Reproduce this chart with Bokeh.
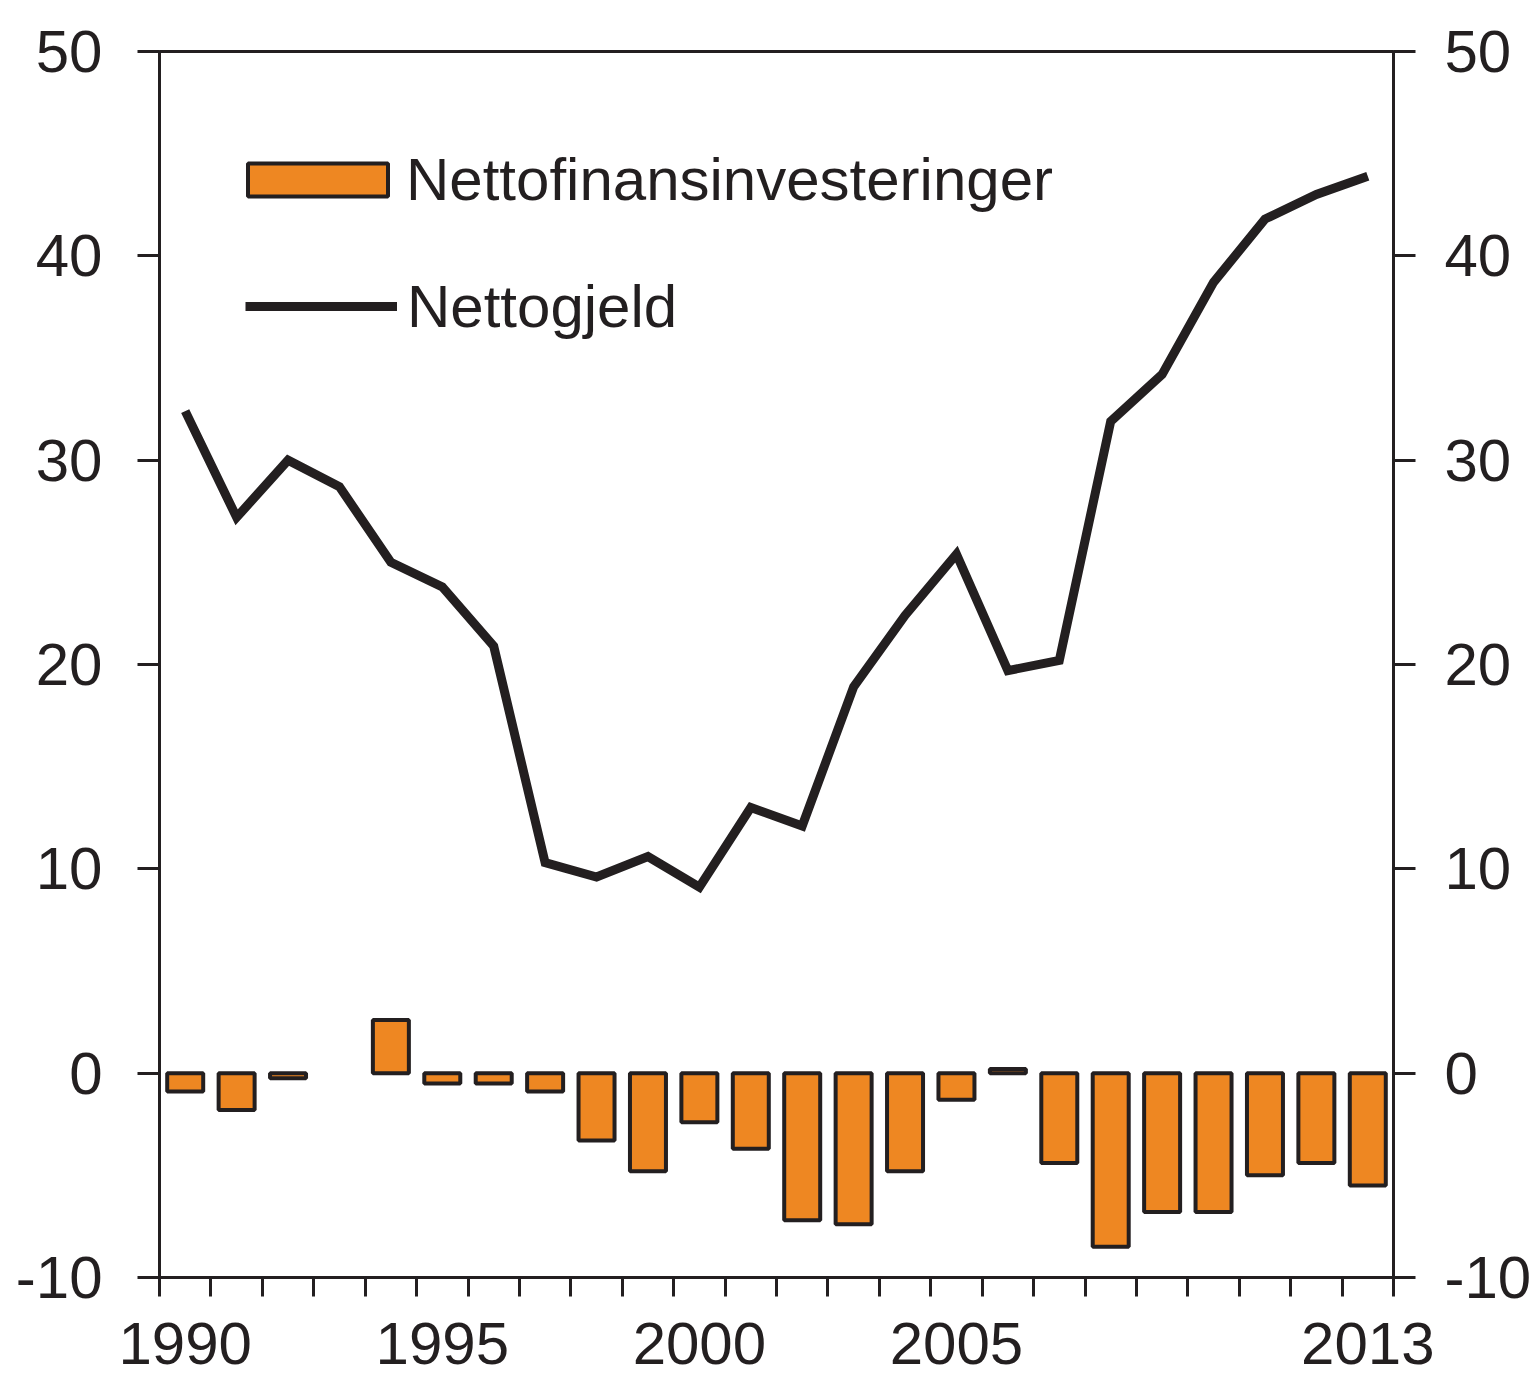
import numpy as np
from bokeh.plotting import figure
from bokeh.models import (ColumnDataSource, Range1d, LinearAxis, FixedTicker,
                          Legend, LegendItem, PrintfTickFormatter)
from bokeh.embed import file_html
from bokeh.resources import INLINE

# ---- data ----
years = list(range(1990, 2014))
nettofinansinvesteringer = [-0.9, -1.8, -0.25, np.nan, 2.6, -0.5, -0.5, -0.9, -3.3, -4.8,
                            -2.4, -3.7, -7.2, -7.4, -4.8, -1.3, 0.2, -4.4, -8.5, -6.8,
                            -6.8, -5.0, -4.4, -5.5]
nettogjeld = [32.4, 27.2, 30.0, 28.7, 25.0, 23.8, 20.9, 10.3, 9.6, 10.6,
              9.1, 13.0, 12.1, 18.9, 22.4, 25.4, 19.7, 20.2, 31.9, 34.2,
              38.7, 41.8, 43.0, 43.9]
y_ticks = [-10, 0, 10, 20, 30, 40, 50]
x_label_years = [1990, 1995, 2000, 2005, 2013]
x_boundaries = [y - 0.5 for y in years] + [years[-1] + 0.5]

FONT = "Liberation Sans"
FS = "60px"
INK = "#231f20"
ORANGE = "#ee8722"

src = ColumnDataSource(data=dict(year=years,
                                 nf=np.array(nettofinansinvesteringer, dtype=float),
                                 ng=nettogjeld))

p = figure(frame_width=1234, frame_height=1226,
           x_range=Range1d(years[0] - 0.5, years[-1] + 0.5),
           y_range=Range1d(-10, 50),
           output_backend="svg", toolbar_location=None,
           x_axis_type=None, y_axis_type=None,
           min_border_left=159, min_border_top=51,
           min_border_right=142, min_border_bottom=108)
p.grid.visible = False
p.outline_line_color = INK
p.outline_line_width = 3
p.background_fill_color = "white"
p.border_fill_color = "white"

bars = p.vbar(x="year", top="nf", bottom=0, width=0.7, source=src,
              fill_color=ORANGE, line_color=INK, line_width=4)
line = p.line(x="year", y="ng", source=src, line_color=INK, line_width=9,
              line_join="miter")


def y_axis(standoff):
    ax = LinearAxis(ticker=FixedTicker(ticks=y_ticks, minor_ticks=[]),
                    formatter=PrintfTickFormatter(format="%d"))
    ax.axis_line_color = INK
    ax.axis_line_width = 3
    ax.major_tick_line_color = INK
    ax.major_tick_line_width = 3
    ax.major_tick_out = 22
    ax.major_tick_in = 0
    ax.minor_tick_line_color = None
    ax.major_label_standoff = standoff
    ax.major_label_text_font = FONT
    ax.major_label_text_font_size = FS
    ax.major_label_text_color = INK
    return ax


p.add_layout(y_axis(35), "left")
p.add_layout(y_axis(29), "right")

xa = LinearAxis(ticker=FixedTicker(ticks=x_label_years, minor_ticks=x_boundaries),
                formatter=PrintfTickFormatter(format="%d"))
xa.axis_line_color = INK
xa.axis_line_width = 3
xa.major_tick_line_color = None
xa.major_tick_out = 19
xa.major_tick_in = 0
xa.minor_tick_line_color = INK
xa.minor_tick_line_width = 3
xa.minor_tick_out = 19
xa.minor_tick_in = 0
xa.major_label_standoff = 26
xa.major_label_text_font = FONT
xa.major_label_text_font_size = FS
xa.major_label_text_color = INK
p.add_layout(xa, "below")

common = dict(location="top_left", padding=0, border_line_color=None,
              background_fill_alpha=0, label_text_font=FONT,
              label_text_font_size=FS, label_text_color=INK)

legend_bar = Legend(items=[LegendItem(label="Nettofinansinvesteringer", renderers=[bars])],
                    margin=71, glyph_width=175, glyph_height=41,
                    label_standoff=1, label_height=115, **common)
legend_line = Legend(items=[LegendItem(label="Nettogjeld", renderers=[line])],
                     margin=86, glyph_width=152, glyph_height=20,
                     label_standoff=10, label_height=338, **common)
p.add_layout(legend_bar)
p.add_layout(legend_line)

open("out.html", "w").write(file_html(p, INLINE))
